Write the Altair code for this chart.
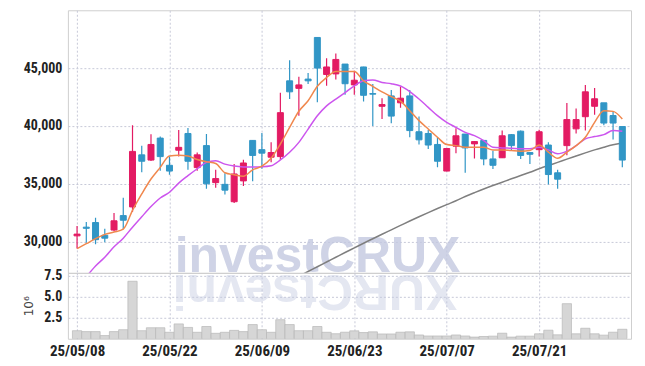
import altair as alt
import pandas as pd

# ---------------- data ----------------
dates = ["25/05/08","25/05/09","25/05/12","25/05/13","25/05/14","25/05/15","25/05/16","25/05/19","25/05/20","25/05/21",
         "25/05/22","25/05/23","25/05/26","25/05/27","25/05/28","25/05/29","25/05/30","25/06/02","25/06/04","25/06/05",
         "25/06/09","25/06/10","25/06/11","25/06/12","25/06/13","25/06/16","25/06/17","25/06/18","25/06/19","25/06/20",
         "25/06/23","25/06/24","25/06/25","25/06/26","25/06/27","25/06/30","25/07/01","25/07/02","25/07/03","25/07/04",
         "25/07/07","25/07/08","25/07/09","25/07/10","25/07/11","25/07/14","25/07/15","25/07/16","25/07/17","25/07/18",
         "25/07/21","25/07/22","25/07/23","25/07/24","25/07/25","25/07/28","25/07/29","25/07/30","25/07/31","25/08/01"]

opens = [30500, 31250, 31650, 30550, 31000, 32250, 33000, 37500, 37050, 38950,
         36600, 37900, 39350, 36400, 38300, 35100, 34950, 33450, 35250, 38750,
         37950, 37300, 37350, 43900, 43250, 44050, 47650, 44450, 44500, 45350,
         43550, 45100, 42800, 41700, 42600, 42000, 42600, 39500, 39350, 38400,
         36100, 38250, 39300, 38450, 38750, 37150, 37250, 39250, 39550, 37700,
         37950, 38350, 35950, 38300, 39750, 40800, 41700, 42000, 40900, 39950]
closes = [30650, 31150, 30170, 30300, 31800, 31850, 37800, 36950, 38400, 37350,
          36100, 38150, 36950, 37500, 35000, 35450, 34450, 35850, 36800, 37450,
          37650, 37700, 41150, 42950, 43550, 43900, 45000, 45100, 45750, 43650,
          43950, 42650, 42750, 41850, 40850, 42400, 39600, 38800, 38350, 36950,
          38050, 39150, 38100, 38650, 37150, 36600, 39150, 38300, 37450, 37550,
          39500, 35800, 35400, 40550, 40550, 42950, 42350, 40250, 40250, 37050]
highs = [31350, 31700, 32070, 31120, 32470, 33790, 40060, 38280, 39280, 39080,
         37350, 39650, 39830, 37700, 39310, 36210, 35920, 36720, 37070, 38740,
         39400, 38590, 42870, 45690, 44250, 44570, 47640, 45860, 46260, 45350,
         44770, 45110, 43620, 42390, 43100, 43390, 43100, 40810, 39650, 39020,
         38050, 39800, 39310, 38680, 38740, 37850, 39600, 39310, 39600, 37700,
         39680, 38590, 36210, 41980, 41500, 43530, 43280, 41980, 41270, 39940]
lows = [29400, 29910, 29770, 29940, 30890, 31060, 32560, 36000, 36980, 36120,
        35780, 37350, 36210, 36120, 34570, 34650, 34080, 33330, 34800, 35230,
        36290, 36870, 37070, 42330, 40890, 43620, 42040, 43480, 44020, 42700,
        42700, 42120, 40000, 40610, 40240, 41580, 39020, 38390, 38010, 36440,
        36090, 37640, 35950, 37190, 36610, 36270, 37240, 37870, 37150, 36720,
        37360, 34940, 34570, 37470, 39340, 39600, 40970, 40060, 38820, 36440]

ma5 = [29390, 29820, 30260, 30630, 30830, 31080, 32700, 34120, 35410, 36420,
       37400, 37460, 37400, 37100, 36900, 36760, 35950, 35780, 35660, 36210,
       36520, 37210, 38440, 39870, 41270, 42180, 43430, 44190, 44710, 44710,
       44710, 43900, 43430, 42940, 42540, 42140, 41320, 40460, 39740, 39020,
       38390, 38300, 38160, 38160, 38160, 37930, 37930, 37870, 37820, 37870,
       38360, 37730, 37210, 37730, 38300, 39020, 40310, 41320, 41260, 40600]
ma20 = [26400, 27000, 27900, 28650, 29550, 30300, 31250, 32150, 33030, 33770,
        34270, 35060, 35700, 36300, 36850, 37000, 36700, 36530, 36460, 36450,
        36470, 36560, 37060, 37720, 38580, 39730, 40880, 41740, 42320, 42890,
        43470, 43900, 43980, 43760, 43650, 43450, 42970, 42330, 41610, 40890,
        40310, 39880, 39450, 39160, 38730, 38160, 38100, 38070, 38020, 38020,
        38160, 37930, 37590, 37820, 38300, 38880, 39080, 39250, 39600, 39540]
ma60_start = 24
ma60 = [27000, 27420, 27830, 28240, 28650, 29060, 29460, 29860, 30250, 30640,
        31020, 31400, 31780, 32150, 32510, 32860, 33200, 33530, 33900, 34230,
        34550, 34850, 35140, 35430, 35710, 36000, 36300, 36580, 36850, 37130,
        37400, 37670, 37930, 38160, 38370, 38530]

volume_m = [0.96, 0.85, 0.85, 0.38, 0.85, 1.08, 6.85, 0.96, 1.31, 1.31,
            0.77, 1.77, 1.35, 0.77, 1.46, 0.65, 0.77, 1.00, 0.85, 1.69,
            1.08, 0.77, 2.27, 1.69, 0.96, 0.96, 1.46, 0.77, 0.60, 0.78,
            0.94, 0.74, 0.82, 0.57, 0.57, 0.78, 0.82, 0.45, 0.33, 0.33,
            0.33, 0.45, 0.33, 0.20, 0.27, 0.31, 0.66, 0.20, 0.31, 0.31,
            0.59, 1.02, 0.47, 4.18, 0.59, 1.25, 0.59, 0.43, 0.78, 1.13]

label_idx = [0, 10, 20, 30, 40, 50]
price_ticks = [30000, 35000, 40000, 45000]
volume_ticks = [2.5, 5.0, 7.5]
watermark = "investCRUX"

# ---------------- styling ----------------
FONT = "Liberation Sans Narrow, Roboto Condensed, DejaVu Sans Condensed, sans-serif"
RED = "#e31b63"
BLUE = "#3196c6"
C_MA5 = "#f0884e"
C_MA20 = "#cc55ee"
C_MA60 = "#7f7f7f"
GRID = "#c7c9d8"
W = 564
n = len(dates)
X_DOMAIN = [-0.45, n - 1 + 0.4]

df = pd.DataFrame({"i": list(range(n)), "date": dates, "open": opens, "close": closes,
                   "high": highs, "low": lows, "vol": volume_m})
df["dir"] = ["up" if c >= o else "down" for o, c in zip(opens, closes)]

ma_rows = [{"i": i, "v": v, "s": "MA5"} for i, v in enumerate(ma5)]
ma_rows += [{"i": i, "v": v, "s": "MA20"} for i, v in enumerate(ma20)]
ma_rows += [{"i": ma60_start + k, "v": v, "s": "MA60"} for k, v in enumerate(ma60)]
ma_df = pd.DataFrame(ma_rows)

label_expr = " : ".join(f"datum.value == {i} ? '{dates[i]}'" for i in label_idx) + " : ''"

xscale = alt.Scale(domain=X_DOMAIN, nice=False, zero=False)
x_price = alt.X("i:Q", scale=xscale,
                axis=alt.Axis(values=label_idx, labels=False, ticks=False, domain=False,
                              grid=True, title=None, minExtent=0, maxExtent=0,
                              labelPadding=0, offset=0))
yscale = alt.Scale(domain=[27300, 50000], nice=False, zero=False)
price_axis = alt.Axis(values=price_ticks, format=",d", title=None, labelPadding=6,
                      labelFontSize=14, grid=True, ticks=False, domain=False)
col = alt.Color("dir:N", scale=alt.Scale(domain=["up", "down"], range=[RED, BLUE]), legend=None)

wm = alt.Chart(pd.DataFrame({"t": [watermark]})).mark_text(
    font="Liberation Sans", fontSize=50, fontWeight="bold", color="#c3c9e0", opacity=0.8,
    align="left", baseline="alphabetic", clip=True
).encode(text="t:N", x=alt.value(107), y=alt.value(262))

candles = alt.Chart(df)
wick = candles.mark_rule(strokeWidth=1.2, clip=True).encode(
    x=x_price, y=alt.Y("low:Q", scale=yscale, axis=price_axis), y2="high:Q", color=col)
body = candles.mark_bar(width=6, strokeWidth=1, clip=True).encode(
    x=x_price, y="open:Q", y2="close:Q", color=col, stroke=col)

def ma_line(name, color):
    return alt.Chart(ma_df).transform_filter(alt.datum.s == name).mark_line(
        color=color, strokeWidth=1.5, clip=True, interpolate="monotone"
    ).encode(x=x_price, y=alt.Y("v:Q", scale=yscale))

price = alt.layer(wm, ma_line("MA60", C_MA60), wick, body,
                  ma_line("MA20", C_MA20), ma_line("MA5", C_MA5)).properties(width=W, height=263)

refl = alt.Chart(pd.DataFrame({"t": [watermark[::-1]]})).mark_text(
    font="Liberation Sans", fontSize=50, fontWeight="bold", color="#c3c9e0", opacity=0.45,
    align="left", baseline="alphabetic", angle=180, clip=True
).encode(text="t:N", x=alt.value(391), y=alt.value(2))

vol_bars = alt.Chart(df).transform_calculate(
    x0="datum.i - 0.5", x1="datum.i + 0.5"
).mark_bar(fill="#d6d6d6", stroke="#b7b7b7", strokeWidth=0.7, clip=True,
           orient="vertical").encode(
    x=alt.X("x0:Q", scale=xscale,
            axis=alt.Axis(values=label_idx, labelExpr=label_expr, title=None, ticks=False,
                          domain=False, grid=True, labelPadding=5, labelFlush=False,
                          labelFontSize=15)),
    x2="x1:Q",
    y=alt.Y("vol:Q", scale=alt.Scale(domain=[0, 7.85], nice=False),
            axis=alt.Axis(values=volume_ticks, format=".1f", title="10⁶", titleFont="DejaVu Sans",
                          titleFontSize=12, titleFontWeight="normal", titleColor="#444",
                          titlePadding=8, labelPadding=6, labelFontSize=14, ticks=False,
                          domain=False, grid=True)),
    y2=alt.datum(0),
)

volume = alt.layer(refl, vol_bars).properties(width=W, height=66)

chart = alt.vconcat(price, volume, spacing=0, bounds="flush").properties(
    padding={"left": 14, "top": 1, "right": 5, "bottom": 5}
).configure_view(stroke="#cfcfcf", strokeWidth=1).configure_axis(
    labelFont=FONT, labelFontWeight="bold", labelColor="#222",
    gridColor=GRID, gridDash=[2, 2], gridWidth=1
)

chart.save("out.html", embed_options={"renderer": "svg", "actions": False})
